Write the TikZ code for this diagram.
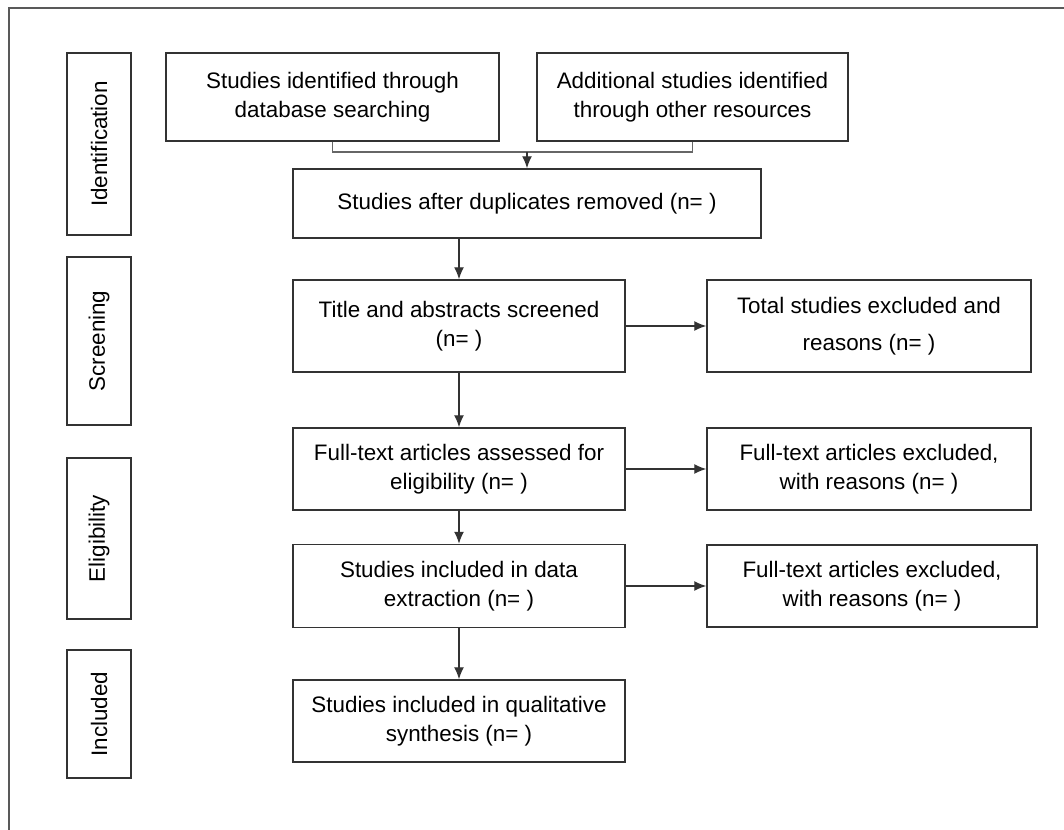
\documentclass[tikz,border=0pt]{standalone}
\usepackage{fontspec}
\setmainfont{Liberation Sans}
\usetikzlibrary{arrows.meta,calc}

\tikzset{
  box/.style 2 args={draw=black!80,line width=1.1pt,align=center,inner sep=0pt,
    minimum width=#1*0.75pt,minimum height=#2*0.75pt,font=\fontsize{16.8}{22}\selectfont},
  phase/.style 2 args={box={#1}{#2},rotate=90},
  link/.style={draw=black!80,line width=1pt,-{Latex[length=9pt,width=7.5pt]}},
}

\begin{document}
\begin{tikzpicture}[x=0.75pt,y=-0.75pt]
\useasboundingbox (0,0) rectangle (1064,830);
% frame
\draw[black!65,line width=1.5pt] (9,830)--(9,8)--(1064,8);
%
% phases
\node[phase={182}{64}] (ident) at (99,144) {Identification};
\node[phase={168}{64}] (screen) at (99,341) {Screening};
\node[phase={161}{64}] (elig) at (99,538.5) {Eligibility};
\node[phase={128}{64}] (incl) at (99,714) {Included};
%
% main column
\node[box={333}{88}] (db) at (332.5,97) {Studies identified through\\database searching};
\node[box={311}{88}] (other) at (692.5,97) {Additional studies identified\\through other resources};
\node[box={468}{69}] (dup) at (527,203.5) {Studies after duplicates removed (n= )};
\node[box={332}{92}] (title) at (459,326) {Title and abstracts screened\\(n= )};
\node[box={324}{92}] (excl) at (869,326) {Total studies excluded and\\[6pt]reasons (n= )};
\node[box={332}{82}] (full) at (459,469) {Full-text articles assessed for\\eligibility (n= )};
\node[box={324}{82}] (fullx) at (869,469) {Full-text articles excluded,\\with reasons (n= )};
\node[box={332}{83}] (data) at (459,586) {Studies included in data\\extraction (n= )};
\node[box={330}{82}] (datax) at (872,586) {Full-text articles excluded,\\with reasons (n= )};
\node[box={332}{82}] (qual) at (459,721) {Studies included in qualitative\\synthesis (n= )};
%
% connectors
\coordinate (merge) at (527,152);
\draw[black!60,line width=1pt] (db.south)|-(merge)-|(other.south);
\draw[link] (merge)--(dup.north);
\draw[link] (dup.south-|title.north)--(title.north);
\draw[link] (title.south)--(full.north);
\draw[link] (full.south)--(data.north);
\draw[link] (data.south)--(qual.north);
\draw[link] (title.east)--(excl.west);
\draw[link] (full.east)--(fullx.west);
\draw[link] (data.east)--(datax.west);
\end{tikzpicture}
\end{document}
